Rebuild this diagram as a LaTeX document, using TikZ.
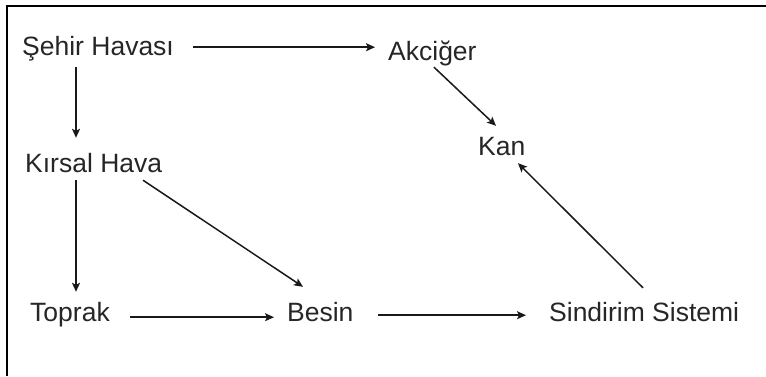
\documentclass[tikz,border=0pt]{standalone}
\usepackage{fontspec}
\setmainfont{Liberation Sans}
\usetikzlibrary{arrows.meta}
\begin{document}
\begin{tikzpicture}[x=1pt,y=-1pt,
  lbl/.style={anchor=base west,inner sep=0pt,text height=19pt,text depth=0pt,
    font=\fontsize{26.5}{30}\selectfont,text=black!85},
  arr/.style={line width=1.5pt,draw=black!90,-{Stealth[length=9pt,width=8pt,inset=2pt]}},
  frame/.style={line width=2.5pt,draw=black}]
\useasboundingbox (0,0) rectangle (766,376);
\draw[frame] (7,376) -- (7,6) -- (766,6);
\node[lbl] (sehir) at (22,55) {Şehir Havası};
\node[lbl] (akciger) at (388,60.5) {Akciğer};
\node[lbl] (kan) at (478,155) {Kan};
\node[lbl] (kirsal) at (25,172.7) {Kırsal Hava};
\node[lbl] (toprak) at (30,321) {Toprak};
\node[lbl] (besin) at (287,321) {Besin};
\node[lbl] (sindirim) at (549,321) {Sindirim Sistemi};
\draw[arr] ([shift={(171,-8)}]sehir.south west) -- ([shift={(-13,-13.5)}]akciger.south west);
\draw[arr] ([shift={(54,12)}]sehir.south west) -- ([shift={(51,-15.7)}]kirsal.north west);
\draw[arr] ([shift={(51,7.3)}]kirsal.south west) -- ([shift={(46,-10)}]toprak.north west);
\draw[arr] ([shift={(118,7.3)}]kirsal.south west) -- ([shift={(16,-15)}]besin.north west);
\draw[arr] ([shift={(100,-4)}]toprak.south west) -- ([shift={(-13,-4)}]besin.south west);
\draw[arr] ([shift={(91,-6)}]besin.south west) -- ([shift={(-23,-6)}]sindirim.south west);
\draw[arr] ([shift={(94,-14)}]sindirim.north west) -- ([shift={(40,8)}]kan.south west);
\draw[arr] ([shift={(46,6.5)}]akciger.south west) -- ([shift={(18,-10)}]kan.north west);
\end{tikzpicture}
\end{document}
